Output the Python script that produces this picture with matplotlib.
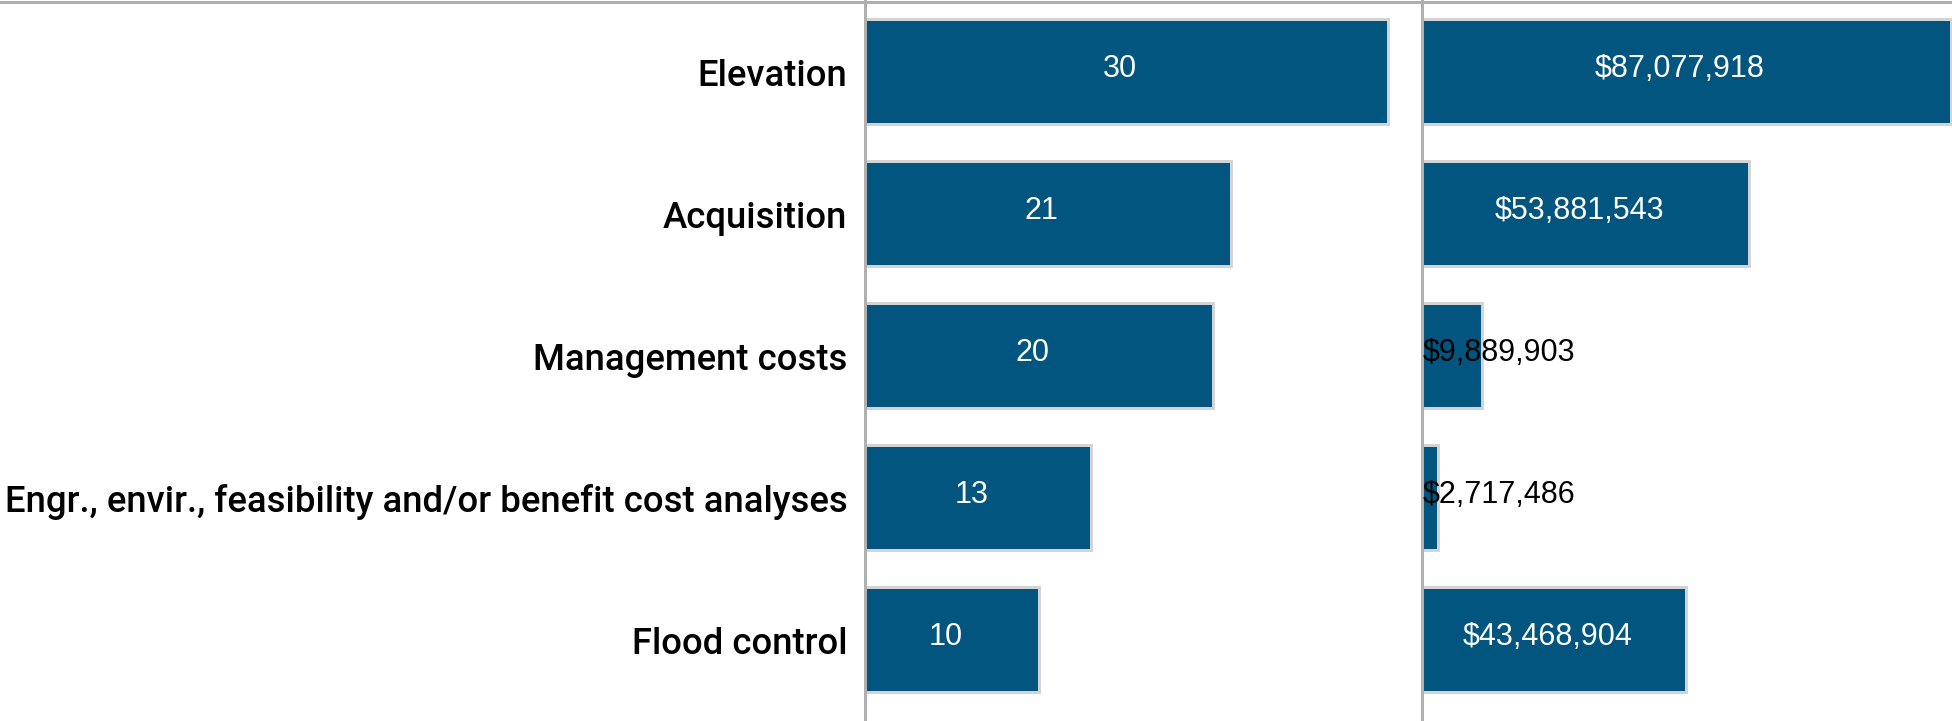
"""Grant activities: project count and amount"""

import matplotlib
matplotlib.use('Agg')
import matplotlib.pyplot as plt
from matplotlib.lines import Line2D

# данные
categories = ['Elevation', 'Acquisition', 'Management costs',
              'Engr., envir., feasibility and/or benefit cost analyses',
              'Flood control']
counts = [30, 21, 20, 13, 10]
amounts = [87077918, 53881543, 9889903, 2717486, 43468904]

BAR_COLOR = '#02557e'
EDGE_COLOR = '#d4d4d4'
LINE_COLOR = '#b0b0b0'
W, H = 1952, 721
PX = 0.72  # 1 px in points at dpi 100

fig = plt.figure(figsize=(W / 100, H / 100), dpi=100)
fig.patch.set_facecolor('white')

# ряды: центр первого на 71.7 px, шаг 142 px
row_top = -71.7 / 142
row_bottom = (H - 71.7) / 142

ax1 = fig.add_axes([864.5 / W, 0, (1421.5 - 864.5) / W, 1])
ax2 = fig.add_axes([1421.5 / W, 0, (W - 1421.5) / W, 1])
ax1.set_xlim(0, (1421.5 - 864.5) / 17.44)
ax2.set_xlim(0, max(amounts) * (W - 1421.5) / 529)

y = list(range(len(categories)))
for ax, vals in ((ax1, counts), (ax2, amounts)):
    ax.barh(y, vals, height=0.74, color=BAR_COLOR, edgecolor=EDGE_COLOR,
            linewidth=3 * PX, zorder=2)
    ax.set_ylim(row_bottom, row_top)
    ax.set_xticks([])
    ax.set_yticks([])
    for s in ('top', 'right', 'bottom'):
        ax.spines[s].set_visible(False)
    ax.spines['left'].set_color(LINE_COLOR)
    ax.spines['left'].set_linewidth(3 * PX)
    ax.spines['left'].set_zorder(3)
    ax.patch.set_alpha(0)

# подписи категорий
for i, cat in enumerate(categories):
    ax1.annotate(cat, xy=(0, i), xycoords=ax1.get_yaxis_transform(),
                 xytext=(-17 * PX, -14 * PX), textcoords='offset points',
                 ha='right', va='baseline', fontsize=26.3, fontweight='medium',
                 family='Roboto', color='black')


def fmt_count(v):
    return str(v)


def fmt_amount(v):
    return '${:,}'.format(v)


# подписи значений
fig.canvas.draw()
renderer = fig.canvas.get_renderer()
for ax, vals, fmt in ((ax1, counts, fmt_count), (ax2, amounts, fmt_amount)):
    for i, v in enumerate(vals):
        t = ax.text(v / 2, i, fmt(v), fontsize=22, family='Liberation Sans',
                    ha='center', va='baseline', color='white', zorder=4)
        tw = t.get_window_extent(renderer).width
        x0 = ax.transData.transform((0, i))[0]
        x1 = ax.transData.transform((v, i))[0]
        t.remove()
        if tw + 10 < x1 - x0:
            ax.annotate(fmt(v), xy=(v / 2, i), xytext=(-6 * PX, -5 * PX),
                        textcoords='offset points', fontsize=22,
                        family='Liberation Sans', ha='center', va='baseline',
                        color='white', zorder=4)
        else:
            ax.annotate(fmt(v), xy=(0, i), xytext=(1.5 * PX, -5 * PX),
                        textcoords='offset points', fontsize=22,
                        family='Liberation Sans', ha='left', va='baseline',
                        color='black', zorder=4, annotation_clip=False)

# верхняя линия
fig.add_artist(Line2D([0, 1], [1 - 2.2 / H, 1 - 2.2 / H], transform=fig.transFigure,
                      color=LINE_COLOR, linewidth=3 * PX))

fig.savefig('out.png', dpi=100)
